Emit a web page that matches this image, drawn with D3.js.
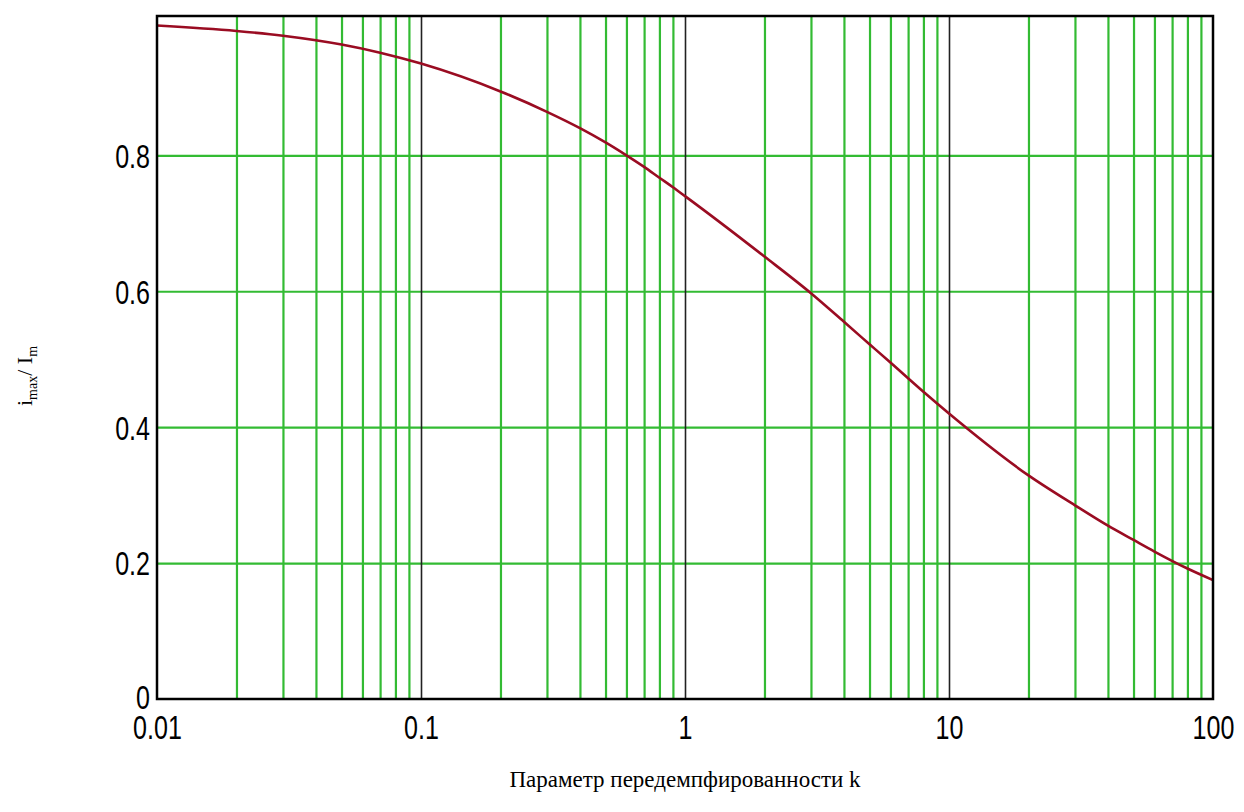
<!DOCTYPE html>
<html>
<head>
<meta charset="utf-8">
<script src="https://cdn.jsdelivr.net/npm/d3@7"></script>
<style>
  body { margin: 0; background: #fff; }
  svg { display: block; }
  .tick-label { font-family: "Liberation Sans", Arial, sans-serif; font-size: 33px; fill: #000; }
  .title { font-family: "Liberation Serif", "Times New Roman", serif; fill: #000; }
</style>
</head>
<body>
<svg id="chart" width="1244" height="812"></svg>
<script>
// damping parameter k (log axis) and peak current ratio i_max / I_m
var kValues = [0.01, 0.02, 0.03, 0.05, 0.07, 0.1, 0.2, 0.3, 0.4, 0.5, 0.6, 0.7, 0.8, 0.9, 1,
               2, 3, 4, 5, 6, 8, 10, 20, 30, 40, 50, 60, 80, 100];
var ratioValues = [0.991, 0.983, 0.976, 0.963, 0.951, 0.935, 0.894, 0.864, 0.840, 0.819, 0.800, 0.783, 0.767, 0.753, 0.740,
                   0.651, 0.597, 0.555, 0.522, 0.495, 0.452, 0.420, 0.329, 0.285, 0.255, 0.234, 0.217, 0.192, 0.175];

var xTicks = [0.01, 0.1, 1, 10, 100];
var xTickLabels = ["0.01", "0.1", "1", "10", "100"];
var yTicks = [0, 0.2, 0.4, 0.6, 0.8];
var yTickLabels = ["0", "0.2", "0.4", "0.6", "0.8"];
var xTitle = "Параметр передемпфированности k";

var svg = d3.select("#chart");

var margin = { top: 16, left: 157, right: 31, bottom: 113 };
var width = 1244 - margin.left - margin.right;
var height = 812 - margin.top - margin.bottom;

var x = d3.scaleLog().domain([0.01, 100]).range([0, width]);
var y = d3.scaleLinear().domain([0, 1.005]).range([height, 0]);

var g = svg.append("g")
    .attr("transform", "translate(" + margin.left + "," + margin.top + ")");

// minor log gridlines (2..9 in each decade)
var minor = [];
[0.01, 0.1, 1, 10].forEach(function(d) {
  for (var m = 2; m <= 9; m++) minor.push(+(d * m).toPrecision(3));
});

g.append("g")
  .attr("class", "vertical-grid")
  .attr("transform", "translate(0," + height + ")")
  .call(d3.axisBottom(x).tickValues(minor).tickSize(-height).tickFormat(""))
  .call(function(s) {
    s.select(".domain").remove();
    s.selectAll("line").attr("stroke", "#33bb33").attr("stroke-width", 2.2);
  });

// horizontal gridlines
g.append("g")
  .attr("class", "horizontal-grid")
  .call(d3.axisLeft(y).tickValues([0.2, 0.4, 0.6, 0.8]).tickSize(-width).tickFormat(""))
  .call(function(s) {
    s.select(".domain").remove();
    s.selectAll("line").attr("stroke", "#33bb33").attr("stroke-width", 2.2);
  });

// decade lines
g.append("g")
  .attr("transform", "translate(0," + height + ")")
  .call(d3.axisBottom(x).tickValues([0.1, 1, 10]).tickSize(-height).tickFormat(""))
  .call(function(s) {
    s.select(".domain").remove();
    s.selectAll("line").attr("stroke", "#222").attr("stroke-width", 1.6);
  });

// curve
var line = d3.line()
  .x(function(d, i) { return x(kValues[i]); })
  .y(function(d) { return y(d); })
  .curve(d3.curveMonotoneX);

g.append("path")
  .datum(ratioValues)
  .attr("d", line)
  .attr("fill", "none")
  .attr("stroke", "#9a0c22")
  .attr("stroke-width", 2.6);

// frame
g.append("rect")
  .attr("width", width)
  .attr("height", height)
  .attr("fill", "none")
  .attr("stroke", "#000")
  .attr("stroke-width", 2.5);

// x tick labels
g.append("g")
  .attr("transform", "translate(0," + height + ")")
  .call(d3.axisBottom(x).tickValues(xTicks).tickSize(0).tickPadding(17)
        .tickFormat(function(d, i) { return xTickLabels[i]; }))
  .call(function(s) {
    s.select(".domain").remove();
    s.selectAll("text").attr("class", "tick-label")
      .attr("font-size", null).attr("font-family", null)
      .attr("transform", "scale(0.76,1)");
  });

// y tick labels
g.append("g")
  .call(d3.axisLeft(y).tickValues(yTicks).tickSize(0).tickPadding(7 / 0.76)
        .tickFormat(function(d, i) { return yTickLabels[i]; }))
  .call(function(s) {
    s.select(".domain").remove();
    s.selectAll("text").attr("class", "tick-label")
      .attr("font-size", null).attr("font-family", null)
      .attr("dy", function(d) { return d === 0 ? "0.28em" : "0.36em"; })
      .attr("transform", "scale(0.76,1)");
  });

// axis titles
svg.append("text")
  .attr("class", "title")
  .attr("x", margin.left + width / 2)
  .attr("y", 787)
  .attr("text-anchor", "middle")
  .style("font-size", "23px")
  .text(xTitle);

var yt = svg.append("text")
  .attr("class", "title")
  .attr("transform", "translate(32,376) rotate(-90)")
  .attr("text-anchor", "middle")
  .style("font-size", "22px");
yt.append("tspan").text("i");
yt.append("tspan").attr("dy", 5).style("font-size", "14px").text("max");
yt.append("tspan").attr("dy", -5).text("/ I");
yt.append("tspan").attr("dy", 5).style("font-size", "14px").text("m");
</script>
</body>
</html>
